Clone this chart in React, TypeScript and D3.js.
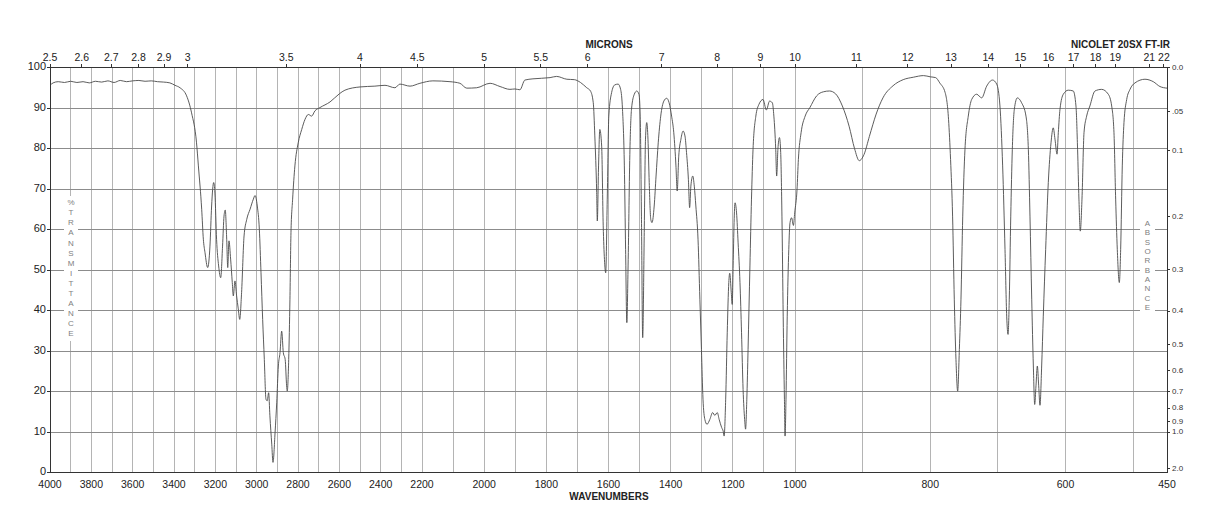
import React from 'react';
import * as d3 from 'd3';

// IR spectrum, [wavenumber cm-1, %T]
const spectrum: [number, number][] = [
  [4000, 95.6], [3985, 96.2], [3960, 96.5], [3930, 96.3], [3900, 96.6], [3870, 96.3],
  [3840, 96.5], [3810, 96.2], [3780, 96.6], [3750, 96.4], [3720, 96.7], [3690, 96.3],
  [3660, 96.8], [3630, 96.5], [3600, 96.7], [3570, 96.8], [3540, 96.6], [3510, 96.7],
  [3480, 96.5], [3450, 96.4], [3420, 96.2], [3395, 95.6], [3371, 95.0], [3339, 93.0],
  [3315, 88.8], [3291, 81.4], [3282, 75.7], [3266, 65.0], [3258, 57.6], [3250, 54.3],
  [3237, 50.6], [3226, 55.9], [3218, 65.8], [3208, 71.6], [3202, 69.0], [3194, 57.6],
  [3184, 51.0], [3174, 48.1], [3165, 55.9], [3158, 63.3], [3152, 64.8], [3145, 57.6],
  [3140, 50.6], [3134, 57.2], [3126, 52.7], [3118, 46.9], [3113, 43.6], [3105, 47.3],
  [3097, 43.6], [3089, 40.4], [3082, 37.8], [3073, 44.4], [3061, 58.4], [3048, 62.5],
  [3032, 65.0], [3016, 67.5], [3008, 68.4], [2997, 65.8], [2987, 60.0], [2979, 49.3],
  [2971, 37.8], [2963, 27.9], [2955, 18.1], [2949, 17.7], [2942, 19.7], [2936, 14.0],
  [2927, 7.0], [2921, 2.5], [2911, 9.8], [2903, 17.2], [2895, 26.3], [2887, 29.6],
  [2879, 34.9], [2871, 29.6], [2862, 27.9], [2855, 21.4], [2852, 20.1], [2845, 27.9],
  [2839, 42.8], [2834, 59.2], [2826, 67.5], [2815, 75.7], [2799, 81.4], [2782, 84.7],
  [2766, 87.2], [2750, 88.4], [2734, 88.0], [2718, 89.3], [2694, 90.1], [2645, 91.5],
  [2600, 93.5], [2573, 94.4], [2500, 95.2], [2428, 95.4], [2379, 95.6], [2331, 95.0],
  [2307, 95.9], [2258, 95.4], [2210, 96.1], [2165, 96.7], [2110, 96.5], [2078, 96.1],
  [2056, 94.9], [2024, 95.0], [1981, 96.1], [1949, 95.3], [1917, 94.6], [1901, 94.7],
  [1885, 94.5], [1869, 96.9], [1843, 97.2], [1788, 97.5], [1767, 97.8], [1734, 97.1],
  [1710, 97.0], [1690, 96.3], [1670, 95.0], [1658, 94.2], [1649, 91.3], [1644, 83.1],
  [1638, 69.1], [1636, 62.1], [1632, 75.7], [1628, 84.7], [1622, 80.6], [1617, 60.9],
  [1613, 52.6], [1609, 49.3], [1604, 67.5], [1599, 88.0], [1590, 93.8], [1580, 95.7],
  [1569, 95.9], [1561, 94.6], [1555, 89.7], [1549, 75.7], [1545, 55.1], [1541, 37.0],
  [1537, 51.0], [1531, 79.8], [1526, 89.7], [1517, 93.4], [1509, 94.2], [1502, 93.4],
  [1498, 88.0], [1494, 63.3], [1490, 33.3], [1485, 59.2], [1481, 82.3], [1477, 86.4],
  [1473, 82.3], [1469, 71.6], [1464, 62.5], [1460, 61.7], [1453, 65.8], [1447, 73.2],
  [1440, 81.4], [1432, 88.0], [1422, 91.7], [1413, 92.4], [1405, 91.3], [1397, 88.0],
  [1390, 83.9], [1383, 75.7], [1379, 69.5], [1374, 78.1], [1367, 82.3], [1360, 84.3],
  [1354, 83.1], [1349, 79.0], [1343, 72.4], [1339, 65.4], [1335, 70.7], [1329, 73.2],
  [1324, 70.7], [1319, 65.8], [1312, 57.6], [1306, 42.8], [1301, 30.4], [1296, 18.1],
  [1290, 13.1], [1283, 11.9], [1274, 13.1], [1265, 14.8], [1258, 14.1], [1250, 14.8],
  [1244, 13.1], [1236, 11.1], [1231, 10.2], [1228, 9.0], [1223, 18.1], [1218, 34.5],
  [1213, 46.9], [1210, 49.2], [1205, 44.4], [1202, 41.5], [1199, 51.0], [1196, 61.7],
  [1193, 66.6], [1188, 64.1], [1183, 56.7], [1177, 46.9], [1172, 34.5], [1167, 20.5],
  [1162, 13.1], [1159, 10.7], [1155, 18.1], [1151, 30.4], [1145, 51.0], [1140, 67.5],
  [1135, 79.8], [1126, 88.0], [1116, 90.9], [1103, 92.1], [1092, 89.5], [1082, 91.7],
  [1073, 91.3], [1068, 88.0], [1062, 79.8], [1059, 73.2], [1055, 79.8], [1050, 82.7],
  [1046, 79.0], [1042, 63.3], [1038, 38.6], [1034, 18.1], [1032, 9.0], [1029, 18.1],
  [1025, 38.6], [1020, 55.1], [1016, 61.7], [1011, 62.9], [1005, 61.0], [1001, 64.1],
  [997, 69.9], [995, 77.3], [991, 83.9], [985, 88.0], [978, 90.1], [968, 93.0],
  [958, 94.0], [949, 94.2], [940, 93.5], [930, 90.5], [920, 85.5], [912, 80.0],
  [905, 77.0], [898, 78.5], [890, 83.0], [880, 88.5], [870, 92.5], [855, 95.5],
  [840, 97.0], [825, 97.6], [810, 98.0], [800, 97.7], [792, 97.5], [786, 96.2],
  [778, 93.8], [773, 87.2], [770, 77.3], [767, 63.3], [764.5, 42.8], [762, 27.9],
  [759.5, 20.1], [757, 30.4], [754.6, 42.8], [752, 63.3], [748.7, 79.8], [743.8, 88.0],
  [738.8, 92.1], [731.4, 93.4], [724, 92.5], [716.6, 95.4], [708, 96.9], [701.8, 95.9],
  [697, 90.5], [693, 75.7], [689.5, 55.1], [687, 38.6], [685, 34.1], [683.2, 42.8],
  [681, 63.3], [678.7, 79.8], [675.7, 89.7], [671.3, 92.5], [665, 91.3], [658.5, 88.0],
  [655, 79.8], [652.6, 63.3], [650, 42.8], [647.6, 26.3], [645.6, 16.8], [643.7, 21.4],
  [641.7, 26.3], [639.7, 21.4], [637.8, 16.6], [635.3, 26.3], [632.9, 38.6], [629.4, 55.1],
  [625.5, 71.6], [621.5, 81.4], [618.2, 85.1], [615.6, 82.3], [612.6, 78.6], [610.7, 83.9],
  [608.2, 89.7], [603.3, 93.4], [596, 94.4], [588.6, 94.2], [584.6, 90.5], [582.2, 79.8],
  [580.2, 67.5], [578.2, 59.6], [575.7, 67.5], [572.7, 83.9], [568.8, 88.0], [564, 90.5],
  [556.5, 94.2], [546.6, 94.6], [536.8, 93.4], [531.8, 90.5], [528.4, 83.9], [525.9, 67.5],
  [523.5, 55.1], [520.5, 46.9], [518.5, 55.1], [516.1, 75.7], [513.6, 86.4], [509.6, 92.1],
  [504.7, 94.6], [497.3, 96.2], [482.6, 97.1], [470.3, 96.5], [460.4, 95.3], [450, 94.9],
];

const wnLabels = [4000, 3800, 3600, 3400, 3200, 3000, 2800, 2600, 2400, 2200, 2000, 1800, 1600, 1400, 1200, 1000, 800, 600, 450];
const wnGrid = [
  3900, 3800, 3700, 3600, 3500, 3400, 3300, 3200, 3100, 3000, 2900, 2800, 2700, 2600, 2500, 2400, 2300,
  2200, 2100, 2000, 1900, 1800, 1700, 1600, 1500, 1400, 1300, 1200, 1100, 1000,
  900, 800, 700, 600, 500,
];
const micronLabels = ['2.5', '2.6', '2.7', '2.8', '2.9', '3', '3.5', '4', '4.5', '5', '5.5', '6', '7', '8', '9', '10', '11', '12', '13', '14', '15', '16', '17', '18', '19', '21', '22'];
const pctTicks = [0, 10, 20, 30, 40, 50, 60, 70, 80, 90, 100];
const absLabels = ['0.0', '.05', '0.1', '0.2', '0.3', '0.4', '0.5', '0.6', '0.7', '0.8', '0.9', '1.0', '2.0'];
const leftTitle = ['%', 'T', 'R', 'A', 'N', 'S', 'M', 'I', 'T', 'T', 'A', 'N', 'C', 'E'];
const rightTitle = ['A', 'B', 'S', 'O', 'R', 'B', 'A', 'N', 'C', 'E'];

const font = '"Liberation Sans", Arial, Helvetica, sans-serif';

export default function App() {
  const left = 50, right = 1167, top = 67.5, bottom = 472.5;
  // scale is broken at 2200 and 1000 cm-1
  const x = d3.scaleLinear().domain([4000, 2200, 1000, 450]).range([left, 422, 795, right]);
  const y = d3.scaleLinear().domain([0, 100]).range([bottom, top]);

  const line = d3.line<[number, number]>()
    .x(d => x(d[0]))
    .y(d => y(d[1]))
    .curve(d3.curveMonotoneX);

  const absY = (a: string) => y(100 * Math.pow(10, -parseFloat(a)));

  return (
    <svg width={1218} height={528} style={{ position: 'absolute', left: 0, top: 0, background: '#fff' }} fontFamily={font}>
      {/* grid */}
      <g shapeRendering="crispEdges">
        {wnGrid.map(w => (
          <line key={'v' + w} x1={x(w)} x2={x(w)} y1={top} y2={bottom} stroke="#b4b4b4" strokeWidth={1} />
        ))}
        {pctTicks.filter(p => p > 0 && p < 100).map(p => (
          <line key={'h' + p} x1={left} x2={right} y1={y(p)} y2={y(p)} stroke="#8c8c8c" strokeWidth={1} />
        ))}
      </g>

      {/* vertical axis titles */}
      <rect x={64} y={196} width={14} height={145} fill="#fff" />
      {leftTitle.map((c, i) => (
        <text key={'lt' + i} x={71} y={203 + i * 10.1} fontSize={8} fill="#808080" textAnchor="middle" dominantBaseline="middle">{c}</text>
      ))}
      <rect x={1140} y={218} width={15} height={95} fill="#fff" />
      {rightTitle.map((c, i) => (
        <text key={'rt' + i} x={1147.5} y={224 + i * 9.3} fontSize={8} fill="#808080" textAnchor="middle" dominantBaseline="middle">{c}</text>
      ))}

      {/* spectrum */}
      <path d={line(spectrum) || ''} fill="none" stroke="#4a4a4a" strokeWidth={0.9} />

      {/* frame */}
      <rect x={left} y={top} width={right - left} height={bottom - top} fill="none" stroke="#333" strokeWidth={1} shapeRendering="crispEdges" />

      {/* left % axis */}
      {pctTicks.map(p => (
        <g key={'pl' + p}>
          <line x1={left - 3} x2={left} y1={y(p)} y2={y(p)} stroke="#333" shapeRendering="crispEdges" />
          <text x={46} y={y(p)} fontSize={11} fill="#222" textAnchor="end" dominantBaseline="middle">{p}</text>
        </g>
      ))}

      {/* right absorbance axis */}
      {absLabels.map(a => (
        <g key={'a' + a}>
          <line x1={right} x2={right + 3} y1={absY(a)} y2={absY(a)} stroke="#333" shapeRendering="crispEdges" />
          <text x={right + 5} y={absY(a)} fontSize={8} fill="#333" dominantBaseline="middle">{a}</text>
        </g>
      ))}

      {/* top microns axis */}
      {micronLabels.map(m => {
        const px = x(10000 / parseFloat(m));
        return (
          <g key={'m' + m}>
            <line x1={px} x2={px} y1={top - 4} y2={top} stroke="#333" shapeRendering="crispEdges" />
            <text x={px} y={61} fontSize={10.5} fill="#222" textAnchor="middle">{m}</text>
          </g>
        );
      })}
      <text x={609} y={48} fontSize={10} fontWeight="bold" fill="#222" textAnchor="middle">MICRONS</text>
      <text x={1170} y={48} fontSize={10} fontWeight="bold" fill="#222" textAnchor="end">NICOLET 20SX FT-IR</text>

      {/* bottom wavenumber axis */}
      {wnLabels.map(w => (
        <text key={'w' + w} x={x(w)} y={488} fontSize={10.5} fill="#222" textAnchor="middle">{w}</text>
      ))}
      <text x={609} y={500} fontSize={10} fontWeight="bold" fill="#222" textAnchor="middle">WAVENUMBERS</text>
    </svg>
  );
}
